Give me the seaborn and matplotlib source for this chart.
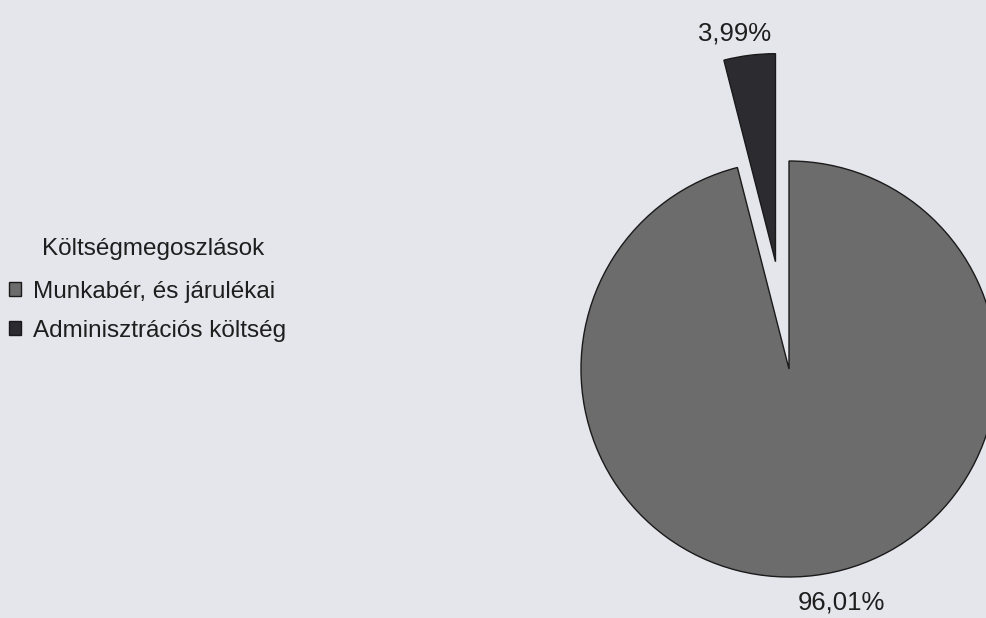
import matplotlib
import matplotlib.pyplot as plt
import seaborn as sns

matplotlib.use("Agg")

# Data
categories = ["Munkabér, és járulékai", "Adminisztrációs költség"]
shares = [96.01, 3.99]
legend_title = "Költségmegoszlások"

BG = "#e5e5ec"
COLORS = ["#6c6c6c", "#2b2b30"]

sns.set_theme(style="white")
plt.rcParams["font.family"] = ["Liberation Sans", "DejaVu Sans"]

W, H = 986, 618
fig = plt.figure(figsize=(W / 100, H / 100), dpi=100, facecolor=BG)
ax = fig.add_axes([0, 0, 1, 1])
ax.set_facecolor(BG)

# pie of radius 1 centred at pixel (789, 369), radius 208 px
R_PX, CX, CY = 208, 789, 369

wedges, texts, autotexts = ax.pie(
    shares,
    colors=COLORS,
    startangle=90,
    counterclock=False,
    explode=[0, 0.52],
    autopct=lambda p: f"{p:.2f}%".replace(".", ","),
    pctdistance=1.12,
    wedgeprops=dict(edgecolor="#1a1a1a", linewidth=1.0),
    textprops=dict(fontsize=18.5, color="#1e1e1e"),
    frame=True,
)
ax.set_xlim(-CX / R_PX, (W - CX) / R_PX)
ax.set_ylim(-(H - CY) / R_PX, CY / R_PX)
ax.set_aspect("auto")
ax.axis("off")

# nudge the percentage labels a little, as in the original
nudges = [(23, -2), (-12, -3)]
for t, (dx, dy) in zip(autotexts, nudges):
    x, y = t.get_position()
    t.set_position((x + dx / R_PX, y + dy / R_PX))

fig.text(42 / W, 1 - 249 / H, legend_title, fontsize=17.5, color="#1e1e1e",
         ha="left", va="center")

ax.legend(
    wedges, categories,
    loc="upper left",
    bbox_to_anchor=(9 / W, 1 - 281 / H),
    bbox_transform=fig.transFigure,
    frameon=False,
    fontsize=17.5,
    handlelength=0.5,
    handleheight=0.5,
    handletextpad=0.5,
    labelspacing=0.68,
    borderpad=0,
    borderaxespad=0,
    labelcolor="#1e1e1e",
)

fig.savefig("out.png", dpi=100, facecolor=BG)
